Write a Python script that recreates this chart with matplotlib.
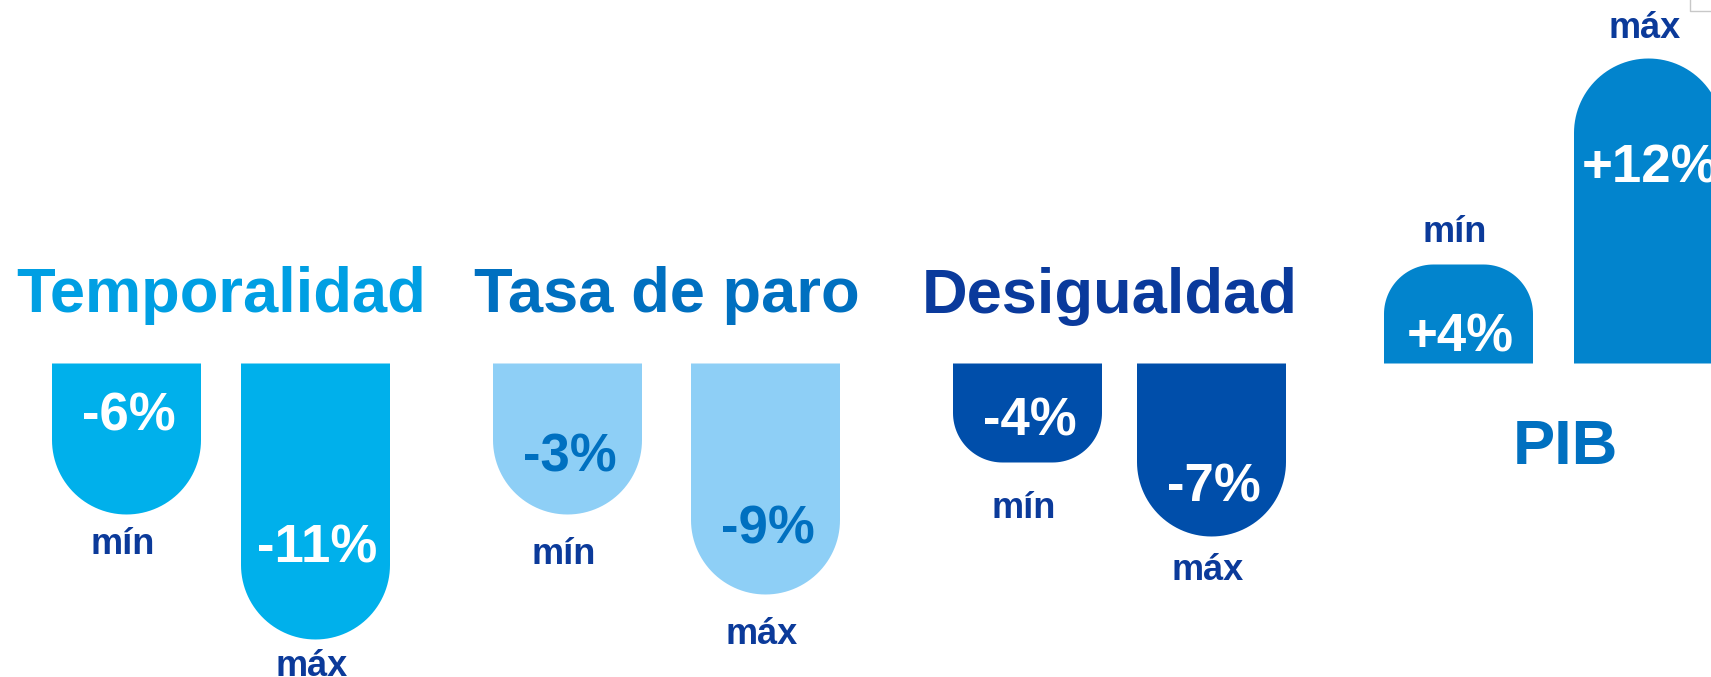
import numpy as np
import matplotlib
matplotlib.use('Agg')
import matplotlib.pyplot as plt
from matplotlib.patches import Polygon

plt.rcParams['font.family'] = ['Liberation Sans', 'DejaVu Sans']

# datos del gráfico
grupos = ['Temporalidad', 'Tasa de paro', 'Desigualdad', 'PIB']
valor_min = [-6, -3, -4, 4]
valor_max = [-11, -9, -7, 12]
# longitud dibujada de cada barra (no es proporcional al valor en el original)
largo_min = [151, 151, 99, 99]
largo_max = [276, 231, 173, 305]

# colores por grupo
col_titulo = ['#009FE3', '#0070C0', '#0A3A9C', '#0070C0']
col_barra = ['#00B0EB', '#8ECFF6', '#004EAA', '#0284CD']
col_valor = ['white', '#0070C0', 'white', 'white']
col_etiqueta = '#0B3A9A'

# maquetación (en píxeles de la figura)
x_min = [52, 493, 953, 1384]
x_max = [241, 691, 1137, 1574]
ancho = 149
base = 363.5
titulo_xy = [(221, 312), (667, 312), (1110, 313), (1565, 464)]
# distancia desde la base a la línea base del texto del valor
off_val_min = [67, 108, 72, 12]
off_val_max = [199, 180, 138, 181]
# distancia desde el extremo de la barra al texto mín/máx
off_lab_min = [39, 49, 56, 23]
off_lab_max = [37, 50, 44, 20]


def barra(ax, x0, largo, color):
    # barra con el extremo redondeado, hacia abajo si s=1, hacia arriba si s=-1
    s = 1 if largo > 0 else -1
    L = abs(largo)
    r = min(ancho / 2, L / 2)
    fin = base + s * L
    cy = fin - s * r
    t1 = np.linspace(np.pi, np.pi / 2, 30)
    t2 = np.linspace(np.pi / 2, 0, 30)
    pts = [(x0, base)]
    pts += list(zip(x0 + r + r * np.cos(t1), cy + s * r * np.sin(t1)))
    pts += list(zip(x0 + ancho - r + r * np.cos(t2), cy + s * r * np.sin(t2)))
    pts += [(x0 + ancho, base)]
    ax.add_patch(Polygon(pts, closed=True, facecolor=color, edgecolor='none'))
    return fin


fig = plt.figure(figsize=(17.11, 6.77), dpi=100)
ax = fig.add_axes([0, 0, 1, 1])
ax.set_xlim(0, 1711)
ax.set_ylim(677, 0)
ax.axis('off')

for i, g in enumerate(grupos):
    ax.text(titulo_xy[i][0], titulo_xy[i][1], g, color=col_titulo[i], fontsize=45.5,
            fontweight='bold', ha='center', va='baseline')

    for x0, v, L, ov, ol, lab in [(x_min[i], valor_min[i], largo_min[i], off_val_min[i], off_lab_min[i], 'mín'),
                                   (x_max[i], valor_max[i], largo_max[i], off_val_max[i], off_lab_max[i], 'máx')]:
        s = 1 if v < 0 else -1
        fin = barra(ax, x0, s * L, col_barra[i])
        txt = '%+d%%' % v
        cx = x0 + ancho / 2
        ax.text(cx + 2, base + s * ov, txt, color=col_valor[i], fontsize=38,
                fontweight='bold', ha='center', va='baseline')
        ax.text(cx - 4, fin + s * ol if s > 0 else fin - ol, lab, color=col_etiqueta,
                fontsize=26, fontweight='bold', ha='center', va='baseline')

# marco gris en la esquina superior derecha
ax.plot([1690, 1690, 1711], [0, 11, 11], color='#C8C8C8', lw=1)

fig.savefig('out.png', dpi=100)
